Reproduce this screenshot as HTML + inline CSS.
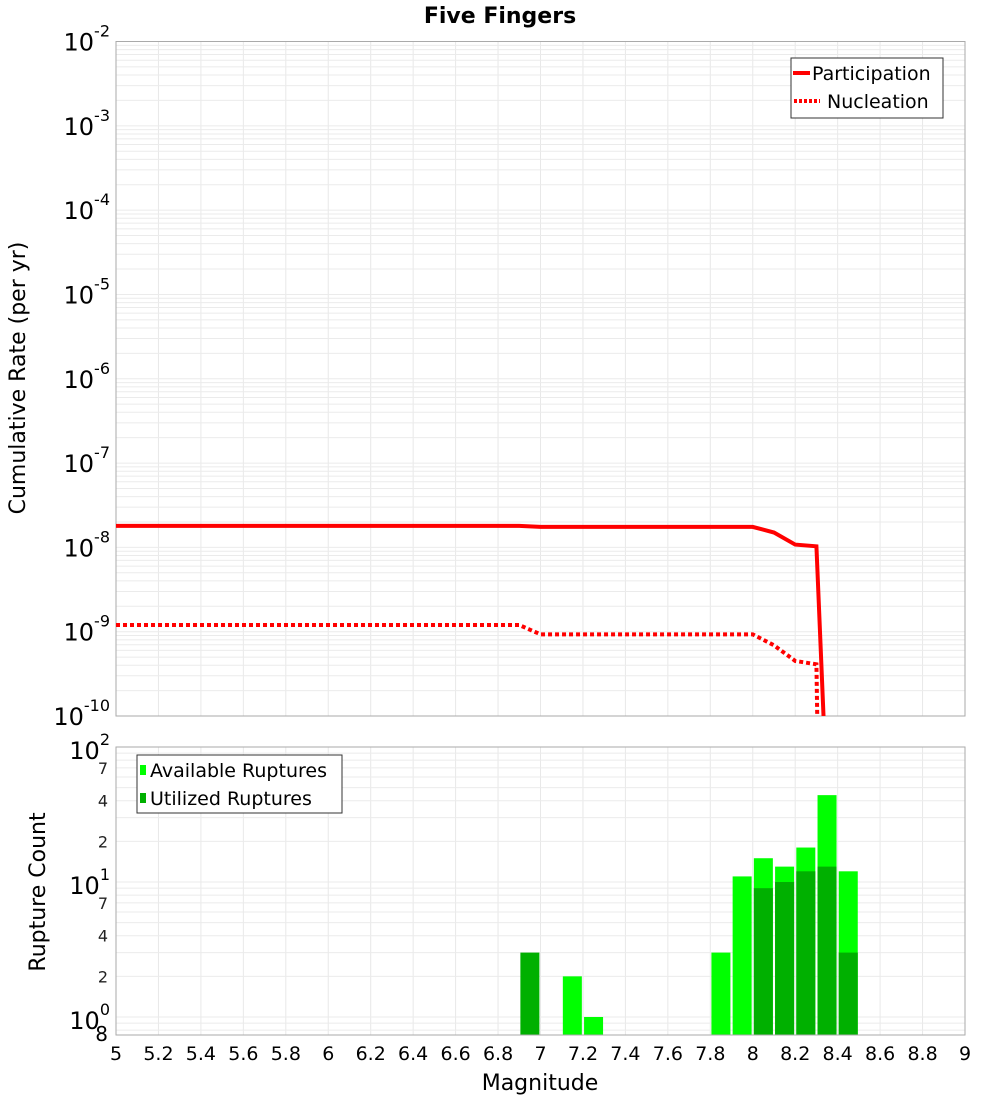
<!DOCTYPE html>
<html><head><meta charset="utf-8"><style>
html,body{margin:0;padding:0;background:#fff;width:1000px;height:1100px;overflow:hidden}
svg{font-family:"DejaVu Sans","Liberation Sans",sans-serif}
</style></head><body>
<svg id="c" width="1000" height="1100" xmlns="http://www.w3.org/2000/svg">
<text x="500" y="23" text-anchor="middle" font-size="22" font-weight="bold">Five Fingers</text>
<g id="topg"></g>
<g id="botg"></g>
<text transform="translate(25,378) rotate(-90)" text-anchor="middle" font-size="22">Cumulative Rate (per yr)</text>
<text transform="translate(45,892) rotate(-90)" text-anchor="middle" font-size="22">Rupture Count</text>
<text x="540" y="1090" text-anchor="middle" font-size="22">Magnitude</text>
</svg>
<script>
const partMags=[5.0,6.9,7.0,8.0,8.1,8.2,8.3,8.35];
const partRates=[1.8e-8,1.8e-8,1.75e-8,1.75e-8,1.5e-8,1.08e-8,1.03e-8,1e-11];
const nuclMags=[5.0,6.9,7.0,8.0,8.1,8.2,8.3,8.31];
const nuclRates=[1.2e-9,1.2e-9,9.3e-10,9.3e-10,6.9e-10,4.5e-10,4.1e-10,1e-11];
const binMags=[6.95,7.15,7.25,7.85,7.95,8.05,8.15,8.25,8.35,8.45];
const availCounts=[0,2,1,3,11,15,13,18,44,12];
const utilCounts=[3,0,0,0,0,9,10,12,13,3];
const xTicks=[5,5.2,5.4,5.6,5.8,6,6.2,6.4,6.6,6.8,7,7.2,7.4,7.6,7.8,8,8.2,8.4,8.6,8.8,9];
const topDecades=[-2,-3,-4,-5,-6,-7,-8,-9,-10];
const botMinor=[7,4,2];

const NS='http://www.w3.org/2000/svg';
const L=116,R=965,T1=41.5,B1=716,T2=747,B2=1035;
const xs=m=>L+(m-5)/4*(R-L);
const yTop=v=>T1+(-2-Math.log10(v))*(B1-T1)/8;
const D2=135, yBot=v=>1017-Math.log10(v)*D2;
function el(p,t,a){const e=document.createElementNS(NS,t);for(const k in a)e.setAttribute(k,a[k]);p.appendChild(e);return e;}
const topG=document.getElementById('topg'),botG=document.getElementById('botg');

for(const m of xTicks){const g=el(topG,'line',{x1:xs(m),x2:xs(m),y1:T1,y2:B1,stroke:'#e8e8e8'});

}
for(let d=-10;d<-2;d++)for(let k=1;k<10;k++){const yy=yTop(k*Math.pow(10,d));const g=el(topG,'line',{x1:L,x2:R,y1:yy,y2:yy,stroke:'#ebebeb'});

}
el(topG,'rect',{x:L,y:T1,width:R-L,height:B1-T1,fill:'none',stroke:'#aaa'});
for(const d of topDecades){const t=el(topG,'text',{x:110,y:yTop(Math.pow(10,d))+9,'text-anchor':'end','font-size':24});


t.innerHTML='10<tspan dy="-14" font-size="16">'+d+'</tspan>';}
const cp=el(topG,'clipPath',{id:'cp'});el(cp,'rect',{x:L,y:T1,width:R-L,height:B1-T1});
const pp=el(topG,'polyline',{points:partMags.map((m,i)=>xs(m)+','+yTop(partRates[i])).join(' '),fill:'none',stroke:'#f00','stroke-width':4,'clip-path':'url(#cp)'});


const np=el(topG,'polyline',{points:nuclMags.map((m,i)=>xs(m)+','+yTop(nuclRates[i])).join(' '),fill:'none',stroke:'#f00','stroke-width':4,'stroke-dasharray':'4 3','clip-path':'url(#cp)'});


const lg=el(topG,'g',{});


el(lg,'rect',{x:791,y:58,width:152,height:60,fill:'#fff',stroke:'#333'});
el(lg,'line',{x1:793,x2:810,y1:73,y2:73,stroke:'#f00','stroke-width':4});
el(lg,'line',{x1:794,x2:820,y1:101,y2:101,stroke:'#f00','stroke-width':4,'stroke-dasharray':'3 2'});
const lt1=el(lg,'text',{x:812,y:80,'font-size':19});lt1.textContent='Participation';
const lt2=el(lg,'text',{x:827,y:108,'font-size':19});lt2.textContent='Nucleation';

for(const m of xTicks){const g=el(botG,'line',{x1:xs(m),x2:xs(m),y1:T2,y2:B2,stroke:'#e8e8e8'});

}
for(const dd of [0.1,1,10])for(let k=1;k<10;k++){const yy=yBot(k*dd);if(yy<T2||yy>B2)continue;const g=el(botG,'line',{x1:L,x2:R,y1:yy,y2:yy,stroke:'#ebebeb'});

}
binMags.forEach((m,i)=>{
 if(availCounts[i]>0){const r=el(botG,'rect',{x:xs(m)-9.5,y:yBot(availCounts[i]),width:19,height:B2-yBot(availCounts[i]),fill:'#00ff00'});
 
 }
 if(utilCounts[i]>0){const r=el(botG,'rect',{x:xs(m)-9.5,y:yBot(utilCounts[i]),width:19,height:B2-yBot(utilCounts[i]),fill:'#00b000'});
 
 }
});
el(botG,'rect',{x:L,y:T2,width:R-L,height:B2-T2,fill:'none',stroke:'#aaa'});
[[2,100],[1,10],[0,1]].forEach(([d,v])=>{const t=el(botG,'text',{x:110,y:yBot(v)+12,'text-anchor':'end','font-size':24});


t.innerHTML='10<tspan dy="-14" font-size="16">'+d+'</tspan>';});
for(const dd of [1,10])for(const k of botMinor){const t=el(botG,'text',{x:108,y:yBot(k*dd)+6,'text-anchor':'end','font-size':16,fill:'#222'});


t.textContent=k;}
const t8=el(botG,'text',{x:108,y:1041,'text-anchor':'end','font-size':20});


t8.textContent='8';
for(const m of xTicks){const t=el(botG,'text',{x:xs(m),y:1060,'text-anchor':'middle','font-size':19});


t.textContent=String(m);}
const bl=el(botG,'g',{});


el(bl,'rect',{x:137,y:755,width:205,height:58,fill:'#fff',stroke:'#333'});
el(bl,'rect',{x:140,y:765,width:6,height:10,fill:'#00ff00'});
el(bl,'rect',{x:140,y:793,width:6,height:10,fill:'#00b000'});
const b1=el(bl,'text',{x:150,y:777,'font-size':19});b1.textContent='Available Ruptures';
const b2=el(bl,'text',{x:150,y:805,'font-size':19});b2.textContent='Utilized Ruptures';
</script>
</body></html>
